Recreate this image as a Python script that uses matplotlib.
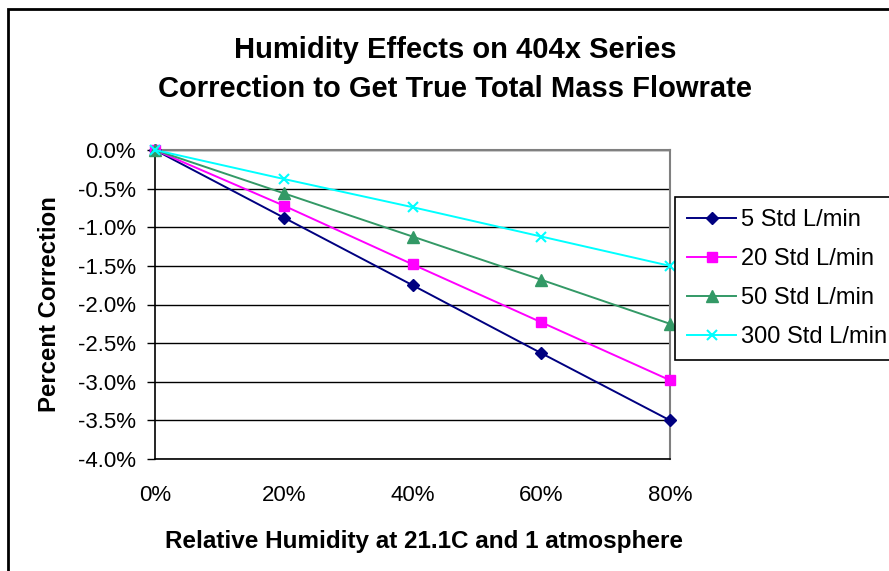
import matplotlib
matplotlib.use('Agg')
import matplotlib.pyplot as plt
import matplotlib.patches as patches
import numpy as np

plt.rcParams['font.family'] = ['Liberation Sans', 'DejaVu Sans']

humidity = [0, 20, 40, 60, 80]
series_names = ['5 Std L/min', '20 Std L/min', '50 Std L/min', '300 Std L/min']
corr_5 = [0.0, -0.875, -1.75, -2.63, -3.50]
corr_20 = [0.0, -0.72, -1.48, -2.23, -2.98]
corr_50 = [0.0, -0.56, -1.12, -1.68, -2.25]
corr_300 = [0.0, -0.375, -0.74, -1.12, -1.50]

colors = ['#000080', '#FF00FF', '#339966', '#00FFFF']
markers = ['D', 's', '^', 'x']
msizes = [6.5, 7.5, 8.5, 6.5]

fig = plt.figure(figsize=(8.89, 5.71), dpi=100)
ax = fig.add_axes([155/889, 1-459/571, (670-155)/889, (459-150)/571])

for vals, name, c, m, ms in zip([corr_5, corr_20, corr_50, corr_300], series_names, colors, markers, msizes):
    ax.plot(humidity, vals, color=c, marker=m, markersize=ms, lw=1.4, label=name,
            markeredgewidth=1.5 if m == 'x' else 1, clip_on=False, zorder=3)

ax.set_xlim(0, 80)
ax.set_ylim(-4.0, 0.0)
yt = np.arange(-4.0, 0.01, 0.5)
ax.set_yticks(yt)
ax.set_yticklabels(['%.1f%%' % v for v in yt])
ax.set_xticks(humidity)
ax.set_xticklabels(['%d%%' % v for v in humidity])
ax.set_xticks([0, 40, 80], minor=True)
ax.tick_params(axis='x', which='major', length=0, pad=19, labelsize=16)
ax.tick_params(axis='x', which='minor', length=6, width=1, direction='out', color='black')
ax.tick_params(axis='y', length=5.5, width=1, direction='out', labelsize=16, pad=8)
ax.yaxis.grid(True, color='black', lw=1)
ax.set_axisbelow(True)
for s in ['left', 'bottom']:
    ax.spines[s].set_color('black')
    ax.spines[s].set_linewidth(1.2)
for s in ['top', 'right']:
    ax.spines[s].set_color('#808080')
    ax.spines[s].set_linewidth(1.5)

ax.set_xlabel('Relative Humidity at 21.1C and 1 atmosphere', fontsize=17.5, fontweight='bold', labelpad=17)
ax.xaxis.label.set_x(0.522)
ax.set_ylabel('Percent Correction', fontsize=17.3, fontweight='bold', labelpad=12)

fig.text(455/889, 1-50/571, 'Humidity Effects on 404x Series', ha='center', va='center',
         fontsize=21, fontweight='bold')
fig.text(455/889, 1-89/571, 'Correction to Get True Total Mass Flowrate', ha='center', va='center',
         fontsize=21, fontweight='bold')

leg = fig.legend(loc='upper left', bbox_to_anchor=(675/889, 1-197/571), fontsize=17,
                 frameon=True, fancybox=False, edgecolor='black', framealpha=1,
                 handlelength=2.1, borderpad=0.5, labelspacing=0.72, handletextpad=0.2,
                 borderaxespad=0)
leg.get_frame().set_linewidth(1.2)

border = patches.Rectangle((8/889, -0.1), 1.1, 1.1 - 9/571, transform=fig.transFigure,
                           fill=False, edgecolor='black', lw=2, clip_on=False)
fig.patches.append(border)

fig.savefig('out.png', dpi=100)
